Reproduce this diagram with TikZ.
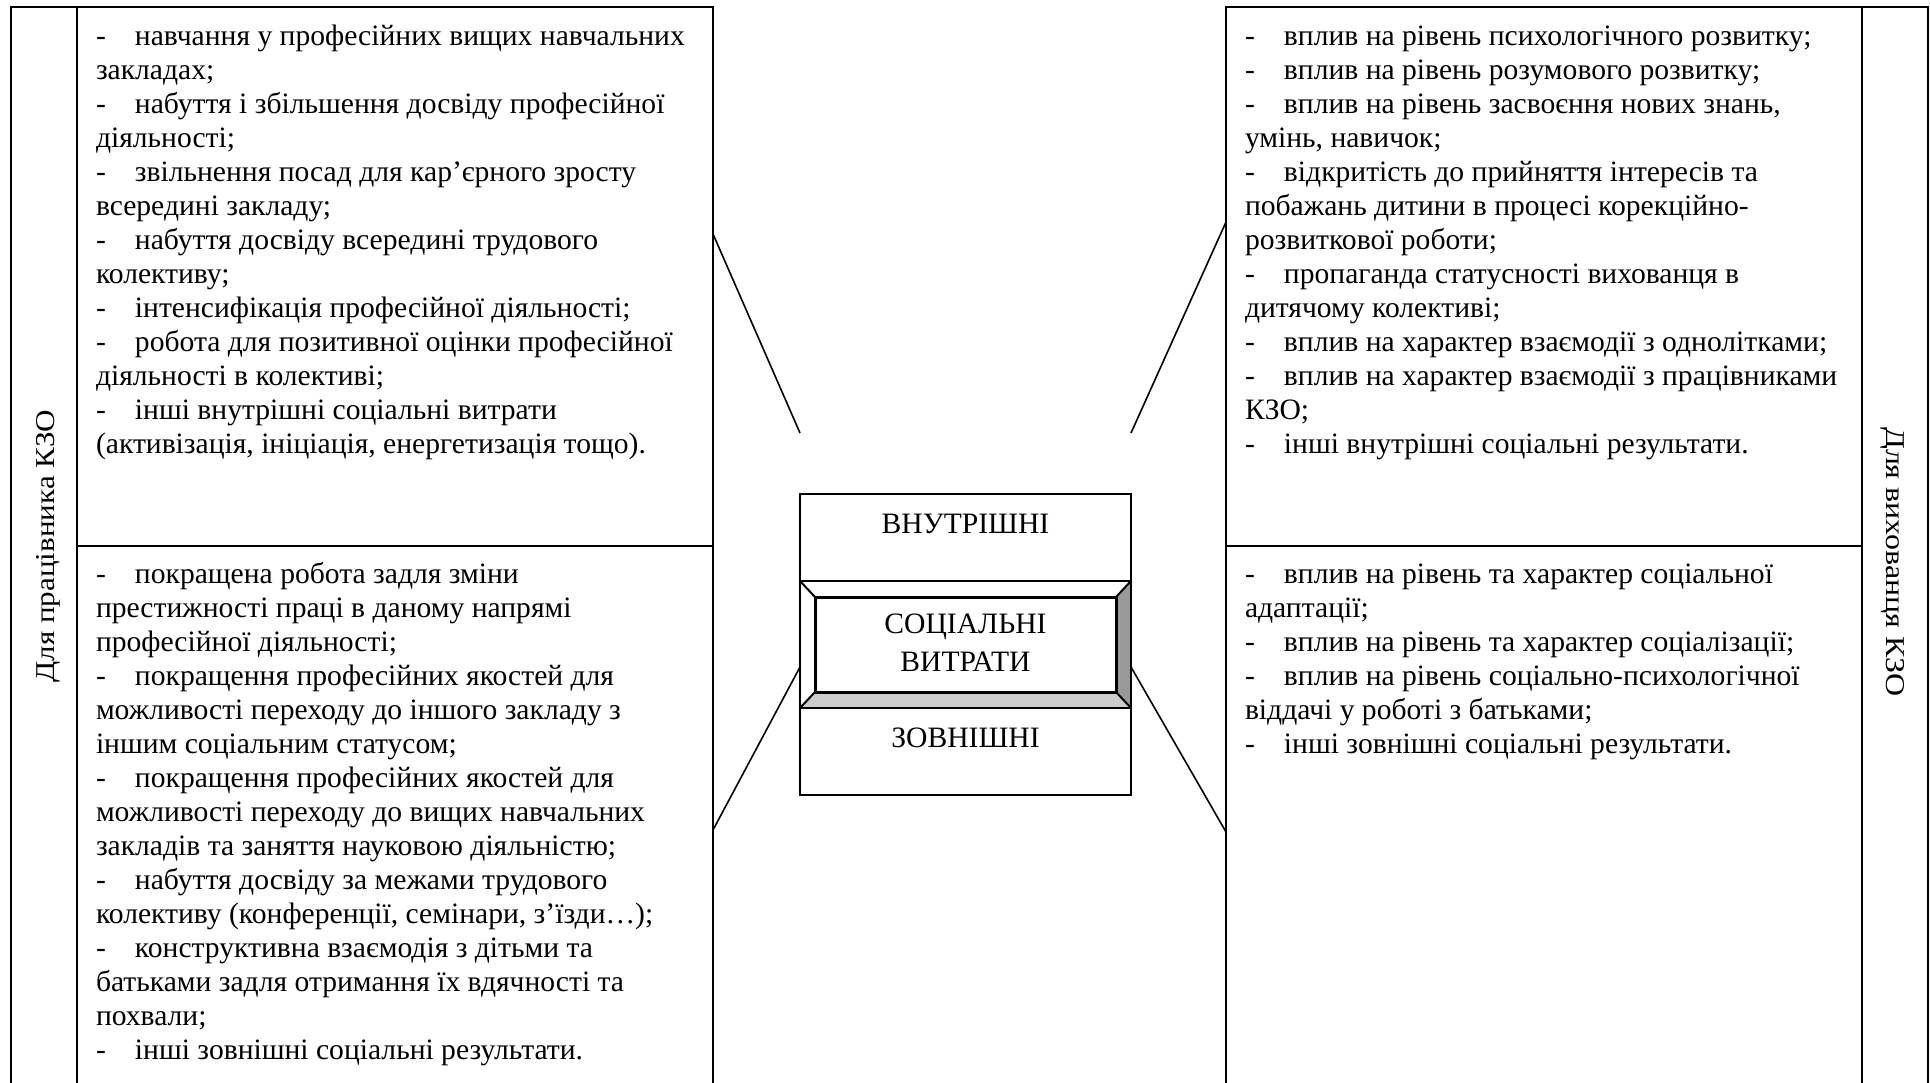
\documentclass[tikz,border=0pt]{standalone}
\usepackage{fontspec}
\setmainfont{Liberation Serif}
\newcommand\dline[1]{\makebox[39pt][l]{-}#1}
\newcommand\coltext[1]{\parbox[t]{640pt}{\fontsize{29.6}{34}\selectfont\raggedright #1}}
\definecolor{faceDark}{HTML}{999999}
\definecolor{faceLight}{HTML}{CCCCCC}
\tikzset{
  frame/.style={line width=2.2pt},
  conn/.style={line width=1.6pt},
  coltxt/.style={anchor=base west, inner sep=0pt, outer sep=0pt},
  sidelabel/.style={inner sep=0pt, font=\fontsize{29.6}{34}\selectfont},
  boxlabel/.style={anchor=base, inner sep=0pt, font=\fontsize{29.6}{34}\selectfont},
}
\begin{document}
\begin{tikzpicture}[x=1pt,y=-1pt]
\useasboundingbox (0,0) rectangle (1930,1083);

% left block: label strip and two text cells (open at the bottom)
\draw[frame] (11,1083) -- (11,7) -- (713,7) -- (713,1083);
\draw[frame] (77,7) -- (77,1083);
\draw[frame] (77,546) -- (713,546);

% right block
\draw[frame] (1226,1083) -- (1226,7) -- (1928,7) -- (1928,1083);
\draw[frame] (1862,7) -- (1862,1083);
\draw[frame] (1226,546) -- (1862,546);

% side labels
\node[sidelabel, rotate=90, xscale=1.05, yscale=0.92] (lblL) at (48,546) {Для працівника КЗО};
\node[sidelabel, rotate=-90, xscale=1.08, yscale=0.92] (lblR) at (1893,562) {Для вихованця КЗО};

% text cells
\node[coltxt] (lt) at (96,46) {\coltext{%
\dline{навчання у професійних вищих навчальних}\\
закладах;\\
\dline{набуття і збільшення досвіду професійної}\\
діяльності;\\
\dline{звільнення посад для кар’єрного зросту}\\
всередині закладу;\\
\dline{набуття досвіду всередині трудового}\\
колективу;\\
\dline{інтенсифікація професійної діяльності;}\\
\dline{робота для позитивної оцінки професійної}\\
діяльності в колективі;\\
\dline{інші внутрішні соціальні витрати}\\
(активізація, ініціація, енергетизація тощо).}};

\node[coltxt] (lb) at (96,583) {\coltext{%
\dline{покращена робота задля зміни}\\
престижності праці в даному напрямі\\
професійної діяльності;\\
\dline{покращення професійних якостей для}\\
можливості переходу до іншого закладу з\\
іншим соціальним статусом;\\
\dline{покращення професійних якостей для}\\
можливості переходу до вищих навчальних\\
закладів та заняття науковою діяльністю;\\
\dline{набуття досвіду за межами трудового}\\
колективу (конференції, семінари, з’їзди…);\\
\dline{конструктивна взаємодія з дітьми та}\\
батьками задля отримання їх вдячності та\\
похвали;\\
\dline{інші зовнішні соціальні результати.}}};

\node[coltxt] (rt) at (1245,46) {\coltext{%
\dline{вплив на рівень психологічного розвитку;}\\
\dline{вплив на рівень розумового розвитку;}\\
\dline{вплив на рівень засвоєння нових знань,}\\
умінь, навичок;\\
\dline{відкритість до прийняття інтересів та}\\
побажань дитини в процесі корекційно-\\
розвиткової роботи;\\
\dline{пропаганда статусності вихованця в}\\
дитячому колективі;\\
\dline{вплив на характер взаємодії з однолітками;}\\
\dline{вплив на характер взаємодії з працівниками}\\
КЗО;\\
\dline{інші внутрішні соціальні результати.}}};

\node[coltxt] (rb) at (1245,583) {\coltext{%
\dline{вплив на рівень та характер соціальної}\\
адаптації;\\
\dline{вплив на рівень та характер соціалізації;}\\
\dline{вплив на рівень соціально-психологічної}\\
віддачі у роботі з батьками;\\
\dline{інші зовнішні соціальні результати.}}};

% central bevelled box
\fill[faceDark] (1131,581) -- (1131,708) -- (1116,692) -- (1116,597) -- cycle;
\fill[faceLight] (800,708) -- (1131,708) -- (1116,692) -- (815,692) -- cycle;
\draw[line width=2pt] (800,494) rectangle (1131,795);
\draw[line width=2pt] (800,581) -- (1131,581);
\draw[line width=2pt] (800,708) -- (1131,708);
\draw[line width=2pt] (800,581) -- (815,597) (1131,581) -- (1116,597)
                      (800,708) -- (815,692) (1131,708) -- (1116,692);
\draw[line width=3pt] (815,597) rectangle (1116,692);

\node[boxlabel] (inner) at (965.5,533) {ВНУТРІШНІ};
\node[boxlabel] (core1) at (965.5,633) {СОЦІАЛЬНІ};
\node[boxlabel] (core2) at (965.5,671) {ВИТРАТИ};
\node[boxlabel] (outer) at (965.5,747) {ЗОВНІШНІ};

% connectors between the cells and the central box
\coordinate (tlA) at (713,234);
\coordinate (tlB) at (800,433);
\coordinate (trA) at (1226,222);
\coordinate (trB) at (1131,433);
\coordinate (blA) at (800,667);
\coordinate (blB) at (713,830);
\coordinate (brA) at (1131,667);
\coordinate (brB) at (1226,832);
\draw[conn] (tlA) -- (tlB);
\draw[conn] (trA) -- (trB);
\draw[conn] (blA) -- (blB);
\draw[conn] (brA) -- (brB);
\end{tikzpicture}
\end{document}
